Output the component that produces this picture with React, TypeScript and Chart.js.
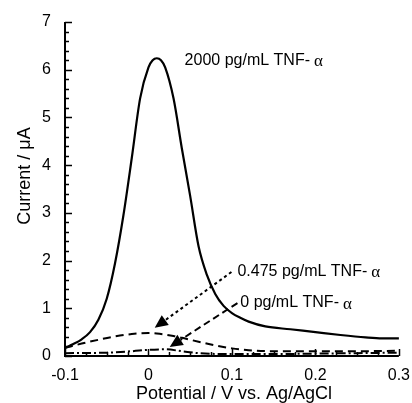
import React, { useEffect, useRef } from "react";
import { Chart, registerables } from "chart.js";

Chart.register(...registerables);

// 2000 pg/mL TNF-alpha (solid)
const potential2000 = [-0.1, -0.09, -0.08, -0.07, -0.06, -0.05, -0.04, -0.03, -0.02, -0.01, 0, 0.005, 0.01, 0.015, 0.02, 0.03, 0.04, 0.05, 0.06, 0.07, 0.08, 0.09, 0.1, 0.11, 0.12, 0.14, 0.17, 0.2, 0.23, 0.26, 0.28, 0.3];
const current2000 = [0.17, 0.25, 0.35, 0.5, 0.76, 1.2, 1.95, 2.95, 4.15, 5.4, 6.05, 6.2, 6.24, 6.2, 6.05, 5.4, 4.35, 3.35, 2.3, 1.7, 1.3, 1.05, 0.9, 0.8, 0.72, 0.62, 0.56, 0.5, 0.44, 0.39, 0.37, 0.37];

// 0.475 pg/mL TNF-alpha (dashed)
const potential0475 = [-0.1, -0.08, -0.06, -0.04, -0.02, 0, 0.01, 0.03, 0.045, 0.06, 0.08, 0.1, 0.12, 0.15, 0.2, 0.25, 0.3];
const current0475 = [0.17, 0.26, 0.34, 0.41, 0.46, 0.48, 0.47, 0.42, 0.36, 0.3, 0.22, 0.16, 0.12, 0.1, 0.1, 0.1, 0.11];

// 0 pg/mL TNF-alpha (dash-dot)
const potential0 = [-0.1, -0.05, -0.02, 0, 0.02, 0.04, 0.06, 0.1, 0.15, 0.2, 0.25, 0.3];
const current0 = [0.06, 0.07, 0.1, 0.13, 0.14, 0.1, 0.06, 0.04, 0.04, 0.05, 0.06, 0.07];

// annotation labels (data coordinates of left/middle anchor)
const labelTexts = ["2000 pg/mL TNF-", "0.475 pg/mL TNF-", "0 pg/mL TNF-"];
const labelX = [0.0433, 0.1066, 0.11];
const labelY = [6.2, 1.76, 1.11];

// arrows: start -> tip (data coordinates)
const arrowFromX = [0.0994, 0.1066];
const arrowFromY = [1.76, 1.11];
const arrowToX = [0.0075, 0.0254];
const arrowToY = [0.59, 0.19];
const arrowDashes = [[3, 3], [7, 4]];

const xTitle = "Potential / V vs. Ag/AgCl";
const yTitle = "Current / \u03bcA";

const toPoints = (xs: number[], ys: number[]) => xs.map((x, i) => ({ x, y: ys[i] }));

const SANS = "'Liberation Sans', Arial, sans-serif";

const decorPlugin = {
  id: "decor",
  afterDraw(chart: any) {
    const ctx = chart.ctx as CanvasRenderingContext2D;
    const xs = chart.scales.x;
    const ys = chart.scales.y;
    const area = chart.chartArea;
    ctx.save();
    ctx.strokeStyle = "#000";
    ctx.fillStyle = "#000";
    ctx.setLineDash([]);

    // axes
    ctx.lineWidth = 2;
    ctx.beginPath();
    ctx.moveTo(area.left, area.top);
    ctx.lineTo(area.left, area.bottom);
    ctx.lineTo(area.right, area.bottom);
    ctx.stroke();

    // y ticks (inward)
    ctx.lineWidth = 1.5;
    for (let i = 0; i <= 35; i++) {
      const v = i * 0.2;
      const py = Math.round(ys.getPixelForValue(v)) + 0.5;
      const len = i % 5 === 0 ? 7 : 4;
      ctx.beginPath();
      ctx.moveTo(area.left, py);
      ctx.lineTo(area.left + len, py);
      ctx.stroke();
    }
    // x ticks (inward)
    for (let i = 0; i <= 16; i++) {
      const v = -0.1 + i * 0.025;
      const px = Math.round(xs.getPixelForValue(v)) + 0.5;
      const len = i % 4 === 0 ? 7 : 4;
      ctx.beginPath();
      ctx.moveTo(px, area.bottom);
      ctx.lineTo(px, area.bottom - len);
      ctx.stroke();
    }

    // arrows
    for (let i = 0; i < arrowFromX.length; i++) {
      const x1 = xs.getPixelForValue(arrowFromX[i]);
      const y1 = ys.getPixelForValue(arrowFromY[i]);
      const x2 = xs.getPixelForValue(arrowToX[i]);
      const y2 = ys.getPixelForValue(arrowToY[i]);
      const ang = Math.atan2(y2 - y1, x2 - x1);
      const headLen = 13;
      const headW = 6;
      const bx = x2 - headLen * Math.cos(ang);
      const by = y2 - headLen * Math.sin(ang);
      ctx.lineWidth = 2;
      ctx.setLineDash(arrowDashes[i]);
      ctx.beginPath();
      ctx.moveTo(x1, y1);
      ctx.lineTo(bx, by);
      ctx.stroke();
      ctx.setLineDash([]);
      ctx.beginPath();
      ctx.moveTo(x2, y2);
      ctx.lineTo(bx + headW * Math.sin(ang), by - headW * Math.cos(ang));
      ctx.lineTo(bx - headW * Math.sin(ang), by + headW * Math.cos(ang));
      ctx.closePath();
      ctx.fill();
    }

    // labels
    ctx.textBaseline = "middle";
    ctx.textAlign = "left";
    for (let i = 0; i < labelTexts.length; i++) {
      const px = xs.getPixelForValue(labelX[i]);
      const py = ys.getPixelForValue(labelY[i]);
      ctx.font = `16px ${SANS}`;
      ctx.fillText(labelTexts[i], px, py);
      const w = ctx.measureText(labelTexts[i]).width;
      ctx.font = `17px 'Liberation Serif', 'Times New Roman', serif`;
      ctx.fillText("\u03b1", px + w + 4, py + 1);
    }

    // axis titles
    ctx.font = `18px ${SANS}`;
    ctx.textAlign = "center";
    ctx.textBaseline = "middle";
    ctx.fillText(xTitle, (area.left + area.right) / 2 + 2, 394);
    ctx.save();
    ctx.translate(25, 176);
    ctx.rotate(-Math.PI / 2);
    ctx.fillText(yTitle, 0, 0);
    ctx.restore();

    ctx.restore();
  },
};

export default function App() {
  const ref = useRef<HTMLCanvasElement | null>(null);
  useEffect(() => {
    if (!ref.current) return;
    const fmt = (v: any) => {
      const n = Math.round(Number(v) * 10) / 10;
      return n === 0 ? "0" : String(n);
    };
    const chart = new Chart(ref.current, {
      type: "line",
      data: {
        datasets: [
          {
            label: "2000 pg/mL",
            data: toPoints(potential2000, current2000),
            borderColor: "#000",
            borderWidth: 2.2,
            pointRadius: 0,
            cubicInterpolationMode: "monotone",
            fill: false,
          },
          {
            label: "0.475 pg/mL",
            data: toPoints(potential0475, current0475),
            borderColor: "#000",
            borderWidth: 2,
            borderDash: [8, 5],
            pointRadius: 0,
            cubicInterpolationMode: "monotone",
            fill: false,
          },
          {
            label: "0 pg/mL",
            data: toPoints(potential0, current0),
            borderColor: "#000",
            borderWidth: 2,
            borderDash: [9, 3, 2, 3],
            pointRadius: 0,
            cubicInterpolationMode: "monotone",
            fill: false,
          },
        ],
      },
      options: {
        animation: false,
        responsive: true,
        maintainAspectRatio: false,
        layout: { padding: { top: 22, right: 12, left: 0, bottom: 0 } },
        plugins: { legend: { display: false }, tooltip: { enabled: false } },
        scales: {
          x: {
            type: "linear",
            min: -0.1,
            max: 0.3,
            grid: { display: false },
            border: { display: false },
            ticks: {
              stepSize: 0.1,
              callback: fmt,
              color: "#000",
              font: { family: SANS, size: 16 },
              padding: 2,
              maxRotation: 0,
            },
            afterFit: (s: any) => {
              s.height = 47;
            },
          },
          y: {
            type: "linear",
            min: 0,
            max: 7,
            grid: { display: false },
            border: { display: false },
            ticks: {
              stepSize: 1,
              color: "#000",
              font: { family: SANS, size: 16 },
              padding: 6,
            },
            afterFit: (s: any) => {
              s.width = 65;
            },
          },
        },
      },
      plugins: [decorPlugin],
    } as any);
    return () => chart.destroy();
  }, []);
  return (
    <div style={{ position: "fixed", left: 0, top: 0, width: 412, height: 403, background: "#fff" }}>
      <canvas ref={ref} />
    </div>
  );
}
